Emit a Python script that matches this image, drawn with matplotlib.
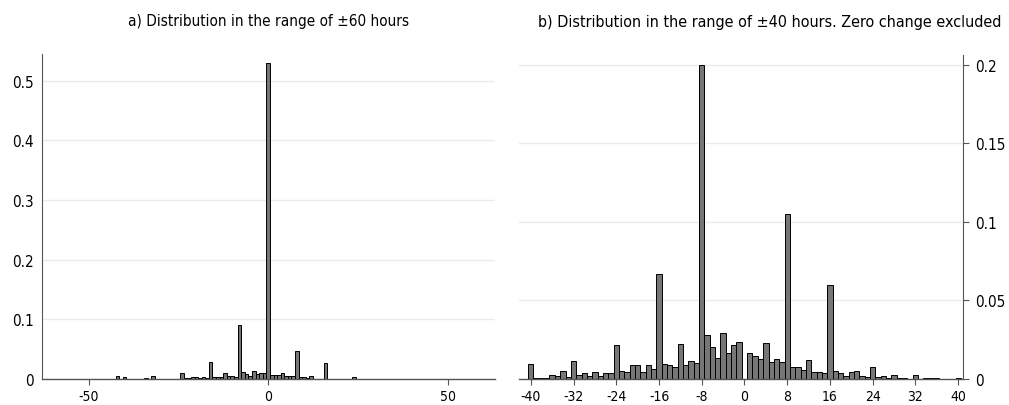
import numpy as np
import matplotlib
matplotlib.use('Agg')
import matplotlib.pyplot as plt
from matplotlib.ticker import FuncFormatter

plt.rcParams['font.family'] = ['DejaVu Sans']
plt.rcParams['font.stretch'] = 'condensed'
plt.rcParams['axes.unicode_minus'] = False

# a) share of changes by hour, -60..60 (unlisted hours are zero)
hours_a = np.arange(-60, 61)
share_a_nonzero = {
    -42: 0.0045, -40: 0.003, -34: 0.0015, -32: 0.005,
    -24: 0.010, -23: 0.0015, -22: 0.001, -21: 0.003, -20: 0.003,
    -19: 0.001, -18: 0.003, -17: 0.002, -16: 0.029, -15: 0.003,
    -14: 0.003, -13: 0.003, -12: 0.010, -11: 0.0045, -10: 0.0055,
    -9: 0.003, -8: 0.0905, -7: 0.011, -6: 0.009, -5: 0.0055,
    -4: 0.0135, -3: 0.0085, -2: 0.010, -1: 0.010, 0: 0.530,
    1: 0.007, 2: 0.006, 3: 0.006, 4: 0.010, 5: 0.005, 6: 0.005,
    7: 0.005, 8: 0.0475, 9: 0.003, 10: 0.003, 11: 0.0015, 12: 0.005,
    16: 0.027, 24: 0.003,
}
share_a = [share_a_nonzero.get(h, 0.0) for h in hours_a]

# b) share of changes by hour, -40..40, zero change left out
hours_b = [h for h in range(-40, 41) if h != 0]
share_b = [
    0.0095, 0.0006, 0.0006, 0.0006, 0.0027, 0.0020, 0.0050, 0.0013,
    0.0114, 0.0027, 0.0038, 0.0020, 0.0044, 0.0019, 0.0038, 0.0038,
    0.0214, 0.0050, 0.0044, 0.0091, 0.0087, 0.0044, 0.0091, 0.0063,
    0.0666, 0.0095, 0.0087, 0.0076, 0.0222, 0.0087, 0.0114, 0.0104,
    0.2000, 0.0281, 0.0207, 0.0133, 0.0292, 0.0165, 0.0214, 0.0233,
    0.0165, 0.0148, 0.0125, 0.0228, 0.0110, 0.0125, 0.0110, 0.1050,
    0.0076, 0.0076, 0.0057, 0.0118, 0.0044, 0.0044, 0.0038, 0.0598,
    0.0049, 0.0038, 0.0020, 0.0044, 0.0049, 0.0020, 0.0013, 0.0076,
    0.0013, 0.0020, 0.0006, 0.0025, 0.0006, 0.0006, 0.0002, 0.0027,
    0.0002, 0.0006, 0.0006, 0.0006, 0.0002, 0.0002, 0.0002, 0.0006,
]

ticks_a_y = [0, 0.1, 0.2, 0.3, 0.4, 0.5]
ticks_a_x = [-50, 0, 50]
ticks_b_y = [0, 0.05, 0.1, 0.15, 0.2]
ticks_b_x = list(range(-40, 41, 8))

bar_color = '#767676'
axis_color = '#555555'
grid_color = '#ebebeb'


def fmt(v, pos):
    return ('%g' % round(v, 3))


fig = plt.figure(figsize=(10.09, 4.06), dpi=100)
ax1 = fig.add_axes([0.0416, 0.064, 0.449, 0.8005])
ax2 = fig.add_axes([0.5144, 0.064, 0.440, 0.798])

for ax in (ax1, ax2):
    ax.set_axisbelow(True)
    ax.grid(axis='y', color=grid_color, lw=1.0)
    for s in ('top', 'left', 'right'):
        ax.spines[s].set_visible(False)
    ax.spines['bottom'].set_color(axis_color)
    ax.spines['bottom'].set_linewidth(1.0)
    ax.tick_params(axis='x', length=4, width=0.8, color=axis_color, labelsize=10, pad=3)
    ax.tick_params(axis='y', length=4, width=0.8, color=axis_color, labelsize=11)
    ax.yaxis.set_major_formatter(FuncFormatter(fmt))

ax1.bar(hours_a, share_a, width=1.0, color=bar_color, edgecolor='black', linewidth=0.7)
ax1.spines['left'].set_visible(True)
ax1.spines['left'].set_color(axis_color)
ax1.set_xlim(-63, 63.2)
ax1.set_ylim(0, 0.545)
ax1.set_xticks(ticks_a_x)
ax1.set_yticks(ticks_a_y)
ax1.tick_params(axis='y', length=0, pad=6)
ax1.set_title('a) Distribution in the range of \u00b160 hours', fontsize=11, pad=21)

ax2.bar(hours_b, share_b, width=1.0, color=bar_color, edgecolor='black', linewidth=0.7)
ax2.spines['right'].set_visible(True)
ax2.spines['right'].set_color(axis_color)
ax2.yaxis.tick_right()
ax2.set_xlim(-42.2, 40.9)
ax2.set_ylim(0, 0.2063)
ax2.set_xticks(ticks_b_x)
ax2.set_yticks(ticks_b_y)
ax2.tick_params(axis='y', pad=5)
ax2.set_title('b) Distribution in the range of \u00b140 hours. Zero change excluded',
              fontsize=11.5, pad=21, x=0.565)

fig.savefig('out.png', dpi=100)
